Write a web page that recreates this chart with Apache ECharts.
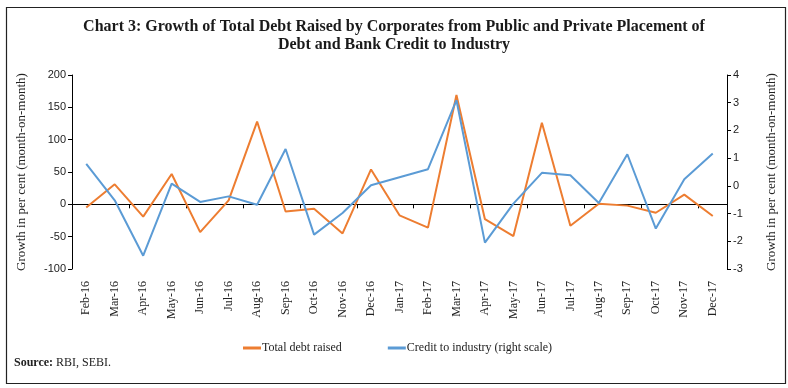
<!DOCTYPE html>
<html>
<head>
<meta charset="utf-8">
<script src="https://cdn.jsdelivr.net/npm/echarts@6/dist/echarts.min.js"></script>
<style>html,body{margin:0;padding:0;background:#fff}#c{width:788px;height:388px}</style>
</head>
<body>
<div id="c"></div>
<script>
const categories = ['Feb-16','Mar-16','Apr-16','May-16','Jun-16','Jul-16','Aug-16','Sep-16','Oct-16','Nov-16','Dec-16','Jan-17','Feb-17','Mar-17','Apr-17','May-17','Jun-17','Jul-17','Aug-17','Sep-17','Oct-17','Nov-17','Dec-17'];
const totalDebt = [-5, 31, -19, 47, -43, 6, 128, -11, -7, -45, 54, -17, -36, 169, -23, -49, 126, -33, 1, -2, -13, 15, -18];
const creditIndustry = [0.79, -0.52, -2.52, 0.08, -0.58, -0.38, -0.68, 1.33, -1.76, -0.98, 0.02, 0.31, 0.6, 3.09, -2.05, -0.64, 0.47, 0.38, -0.62, 1.14, -1.54, 0.24, 1.17];
const leftTicks = {min: -100, max: 200, interval: 50};
const rightTicks = {min: -3, max: 4, interval: 1};
const titleText = 'Chart 3: Growth of Total Debt Raised by Corporates from Public and Private Placement of\nDebt and Bank Credit to Industry';
const axisName = 'Growth in per cent (month-on-month)';

const serif = '"Liberation Serif", "DejaVu Serif", serif';
const sans = '"Liberation Sans", Arial, sans-serif';
const chart = echarts.init(document.getElementById('c'), null, {renderer: 'canvas'});
chart.setOption({
  animation: false,
  backgroundColor: '#fff',
  title: {
    text: titleText,
    left: 'center',
    top: 13,
    textStyle: {fontFamily: serif, fontWeight: 'bold', fontSize: 16, color: '#1a1a1a', lineHeight: 18}
  },
  legend: {
    left: 238,
    top: 337,
    itemWidth: 18,
    itemHeight: 3,
    itemGap: 46,
    icon: 'rect',
    textStyle: {fontFamily: serif, fontSize: 12, color: '#222', padding: [0,0,0,-4]},
    data: ['Total debt raised', 'Credit to industry (right scale)']
  },
  grid: {left: 72, right: 61, top: 75, bottom: 119, containLabel: false},
  xAxis: [
    {
      type: 'category', data: categories, boundaryGap: true,
      axisLine: {onZero: true, lineStyle: {color: '#000', width: 1}},
      axisTick: {show: true, length: 4, inside: false, lineStyle: {color: '#000'}},
      axisLabel: {show: false},
      splitLine: {show: false}
    },
    {
      type: 'category', data: categories, boundaryGap: true, position: 'bottom',
      axisLine: {show: false, onZero: false},
      axisTick: {show: false},
      axisLabel: {show: true, rotate: 90, interval: 0, margin: 12, fontFamily: serif, fontSize: 12, color: '#222'},
      splitLine: {show: false}
    }
  ],
  yAxis: [
    {
      type: 'value', position: 'left', min: leftTicks.min, max: leftTicks.max, interval: leftTicks.interval,
      name: axisName, nameLocation: 'middle', nameRotate: 90, nameGap: 44,
      nameTextStyle: {fontFamily: serif, fontSize: 13, color: '#222'},
      axisLine: {show: true, onZero: false, lineStyle: {color: '#000'}},
      axisTick: {show: true, length: 4, lineStyle: {color: '#000'}},
      axisLabel: {fontFamily: sans, fontSize: 11, color: '#222', margin: 6},
      splitLine: {show: false}
    },
    {
      type: 'value', position: 'right', min: rightTicks.min, max: rightTicks.max, interval: rightTicks.interval,
      name: axisName, nameLocation: 'middle', nameRotate: 90, nameGap: 38,
      nameTextStyle: {fontFamily: serif, fontSize: 13, color: '#222'},
      axisLine: {show: true, onZero: false, lineStyle: {color: '#000'}},
      axisTick: {show: true, length: 4, lineStyle: {color: '#000'}},
      axisLabel: {fontFamily: sans, fontSize: 11, color: '#222', margin: 6},
      splitLine: {show: false}
    }
  ],
  series: [
    {
      name: 'Total debt raised', type: 'line', xAxisIndex: 0, yAxisIndex: 0,
      data: totalDebt, symbol: 'none', smooth: false,
      lineStyle: {color: '#ED7D31', width: 2}, itemStyle: {color: '#ED7D31'}
    },
    {
      name: 'Credit to industry (right scale)', type: 'line', xAxisIndex: 0, yAxisIndex: 1,
      data: creditIndustry, symbol: 'none', smooth: false,
      lineStyle: {color: '#5B9BD5', width: 2}, itemStyle: {color: '#5B9BD5'}
    }
  ],
  graphic: [
    {type: 'rect', left: 4, top: 5, shape: {x: 0, y: 0, width: 779, height: 376},
     style: {fill: 'none', stroke: '#222', lineWidth: 1.2}, silent: true},
    {type: 'text', left: 14, top: 357,
     style: {text: '{b|Source:} RBI, SEBI.', fontFamily: serif, fontSize: 12, fill: '#222',
       rich: {b: {fontFamily: serif, fontWeight: 'bold', fontSize: 12, fill: '#222'}}}}
  ]
});
</script>
</body>
</html>
